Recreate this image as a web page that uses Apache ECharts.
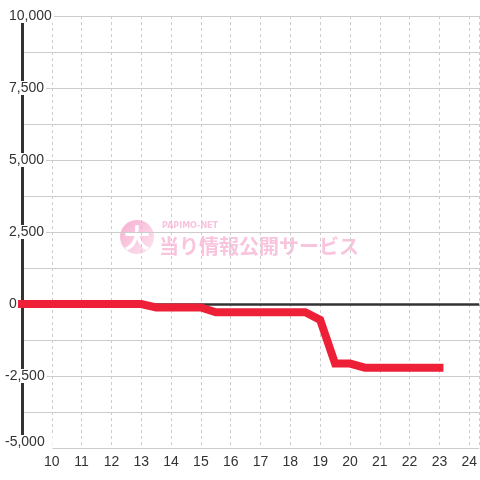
<!DOCTYPE html>
<html>
<head>
<meta charset="utf-8">
<script src="https://cdn.jsdelivr.net/npm/echarts@6/dist/echarts.min.js"></script>
<style>
html,body{margin:0;padding:0;background:#fff;}
#c{width:480px;height:480px;}
</style>
</head>
<body>
<div id="c"></div>
<script>
// Data
var times  = [9, 13, 13.5, 15, 15.5, 18.5, 19, 19.5, 20, 20.5, 23];
var values = [0, 0, -120, -120, -285, -285, -550, -2070, -2070, -2210, -2210];
var xTickLabels = [10, 11, 12, 13, 14, 15, 16, 17, 18, 19, 20, 21, 22, 23, 24];
var yTickLabels = [-5000, -2500, 0, 2500, 5000, 7500, 10000];
var baselineValue = 0;

var seriesData = times.map(function (t, i) { return [t, values[i]]; });

var chart = echarts.init(document.getElementById('c'), null, {renderer: 'canvas'});
var FONT = '"Liberation Sans", Arial, sans-serif';

function fmtNum(v) {
  var s = Math.abs(v).toString().replace(/\B(?=(\d{3})+(?!\d))/g, ',');
  return (v < 0 ? '-' : '') + s;
}

var option = {
  animation: false,
  backgroundColor: '#fff',
  grid: {left: 20, right: 0, top: 16, bottom: 32, containLabel: false},
  xAxis: {
    type: 'value',
    min: 9, max: 9 + 460 / 30, interval: 1,
    position: 'bottom',
    axisLine: {show: false},
    axisTick: {show: false},
    axisLabel: {
      showMaxLabel: false,
      color: '#333', fontSize: 14, fontFamily: FONT, margin: 7,
      formatter: function (v) { return xTickLabels.indexOf(v) >= 0 ? String(v) : ''; }
    },
    splitLine: {show: true, lineStyle: {color: '#cccccc', width: 1, type: [3, 3]}}
  },
  yAxis: {
    type: 'value',
    min: -5000, max: 10000, interval: 1250,
    axisLine: {show: true, onZero: false, lineStyle: {color: '#333', width: 3}},
    axisTick: {show: false},
    splitLine: {show: true, lineStyle: {color: '#cccccc', width: 1}},
    axisLabel: {
      align: 'left', margin: 19,
      color: '#333', fontSize: 14, fontFamily: FONT,
      formatter: function (v) {
        if (yTickLabels.indexOf(v) < 0) return '';
        if (v === -5000) return '{m|' + fmtNum(v) + '}';
        return v < 0 ? '{n|' + fmtNum(v) + '}' : '{p|' + fmtNum(v) + '}';
      },
      rich: {
        p: {backgroundColor: '#fff', padding: [0, 2, 0, 6], color: '#333', fontSize: 14, fontFamily: FONT},
        n: {backgroundColor: '#fff', padding: [0, 2, 0, 2], color: '#333', fontSize: 14, fontFamily: FONT},
        m: {backgroundColor: '#fff', padding: [0, 8, 12, 2], color: '#333', fontSize: 14, fontFamily: FONT}
      }
    }
  },
  graphic: [
    {
      type: 'circle', z: -1,
      shape: {cx: 137, cy: 237, r: 17},
      style: {
        fill: new echarts.graphic.LinearGradient(0, 0, 1, 1, [
          {offset: 0, color: '#f6aed0'},
          {offset: 1, color: '#fde6f1'}
        ])
      }
    },
    {
      type: 'text', z: -1, x: 137, y: 238,
      style: {text: '大', fill: '#ffffff', font: 'bold 26px "Noto Sans CJK JP"', align: 'center', verticalAlign: 'middle'}
    },
    {
      type: 'text', z: -1, x: 162, y: 226,
      style: {text: 'PAPIMO-NET', fill: '#f8c3dc', font: 'bold 8px "DejaVu Sans"', align: 'left', verticalAlign: 'middle'}
    },
    {
      type: 'text', z: -1, x: 159, y: 246,
      style: {text: '当り情報公開サービス', fill: '#f9c4dd', font: 'bold 20px "Noto Sans CJK JP"', align: 'left', verticalAlign: 'middle'}
    }
  ],
  series: [{
    type: 'line',
    data: [],
    z: 1,
    silent: true,
    markLine: {
      z: 1,
      silent: true,
      symbol: ['none', 'none'],
      label: {show: false},
      lineStyle: {color: '#333', width: 2.5, type: 'solid'},
      data: [{yAxis: baselineValue}]
    }
  }, {
    type: 'line',
    data: seriesData,
    symbol: 'none',
    clip: false,
    z: 3,
    lineStyle: {color: '#ee2038', width: 8, cap: 'square', join: 'miter'}
  }]
};
chart.setOption(option);
</script>
</body>
</html>
